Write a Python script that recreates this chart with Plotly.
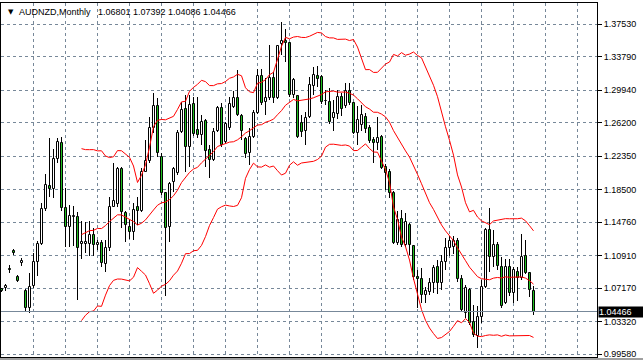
import numpy as np
import plotly.graph_objects as go

# AUDNZD monthly candles
opens = [1.0700,1.0717,1.0935,1.1137,1.0840,1.1001,1.0683,1.0490,1.0740,1.1016,
         1.1223,1.1622,1.1890,1.1852,1.2197,1.2381,1.1634,1.1415,1.1534,1.1530,
         1.1220,1.1223,1.1220,1.1323,1.1208,1.1231,1.0993,1.1174,1.1654,1.1680,
         1.2086,1.1580,1.1424,1.1364,1.1654,1.1608,1.2054,1.2178,1.2560,1.2813,
         1.2227,1.1813,1.1415,1.1939,1.2043,1.2514,1.2772,1.2342,1.2830,1.2534,
         1.2477,1.2641,1.2304,1.2189,1.2526,1.2784,1.2400,1.2554,1.2802,1.2899,
         1.2695,1.2430,1.2266,1.2457,1.2726,1.3158,1.2853,1.2899,1.3129,1.2905,
         1.3520,1.3561,1.3531,1.2937,1.2925,1.2611,1.2523,1.2687,1.3043,1.3158,
         1.3140,1.2862,1.2856,1.2669,1.2718,1.2917,1.2810,1.2986,1.2845,1.2500,
         1.2592,1.2689,1.2557,1.2419,1.2384,1.2454,1.2109,1.2051,1.1810,1.1235,
         1.1505,1.1212,1.1442,1.1200,1.0844,1.0821,1.0637,1.0671,1.0771,1.0953,
         1.0775,1.1016,1.1177,1.1192,1.1261,1.0817,1.0426,1.0694,1.0326,1.0165,
         1.0380,1.0732,1.1384,1.1077,1.1212,1.0955,1.0548,1.0962,1.0656,1.0904,
         1.0829,1.1085,1.0886,1.06801]
highs = [1.0717,1.0760,1.0982,1.1165,1.0866,1.1059,1.0702,1.0890,1.1116,1.1258,
         1.1691,1.2025,1.2439,1.2312,1.2439,1.2454,1.1867,1.1666,1.1660,1.1591,
         1.1488,1.1476,1.1482,1.1407,1.1269,1.1269,1.1269,1.1764,1.2151,1.2112,
         1.2112,1.1603,1.1499,1.1691,1.1767,1.2094,1.2419,1.2687,1.2956,1.2899,
         1.2270,1.1824,1.1939,1.2105,1.2534,1.2860,1.2937,1.2937,1.2917,1.2917,
         1.2707,1.2657,1.2362,1.2554,1.2810,1.2841,1.2629,1.2917,1.2986,1.3224,
         1.2715,1.2457,1.2554,1.2764,1.3236,1.3236,1.3129,1.3512,1.3198,1.3512,
         1.3779,1.3696,1.3549,1.3129,1.2937,1.2707,1.2744,1.3147,1.3262,1.3273,
         1.3167,1.2994,1.3017,1.2879,1.2994,1.2960,1.3080,1.3078,1.2860,1.2810,
         1.2822,1.2730,1.2592,1.2454,1.2684,1.2477,1.2143,1.2086,1.1833,1.1603,
         1.1614,1.1576,1.1468,1.1212,1.0924,1.0944,1.0729,1.0832,1.0976,1.1039,
         1.1096,1.1292,1.1315,1.1315,1.1292,1.0866,1.0752,1.0717,1.0522,1.0510,
         1.0809,1.1404,1.1634,1.1384,1.1249,1.1070,1.1047,1.1047,1.0955,1.0955,
         1.1338,1.1269,1.0904,1.07392]
lows = [1.0671,1.0686,1.0886,1.1096,1.0783,1.0970,1.0458,1.0426,1.0714,1.0855,
        1.1212,1.1606,1.1767,1.1755,1.2151,1.1597,1.1194,1.1192,1.1203,1.0579,
        1.1051,1.1125,1.1085,1.1085,1.1154,1.0958,1.0904,1.1142,1.1643,1.1652,
        1.1404,1.1249,1.1281,1.1269,1.1442,1.1591,1.2048,1.2151,1.2496,1.2227,
        1.1787,1.0625,1.1249,1.1824,1.2016,1.2503,1.2054,1.2112,1.2465,1.2439,
        1.2362,1.2112,1.1979,1.2178,1.2514,1.2342,1.2381,1.2534,1.2784,1.2695,
        1.2419,1.2215,1.2132,1.2445,1.2715,1.2822,1.2707,1.2879,1.2841,1.2891,
        1.3396,1.3319,1.2917,1.2899,1.2445,1.2457,1.2362,1.2669,1.2937,1.3032,
        1.2833,1.2822,1.2603,1.2519,1.2661,1.2695,1.2787,1.2822,1.2488,1.2367,
        1.2523,1.2500,1.2384,1.2154,1.2304,1.2086,1.1844,1.1752,1.1223,1.1212,
        1.1194,1.1192,1.1096,1.0809,1.0487,1.0541,1.0541,1.0637,1.0660,1.0648,
        1.0694,1.0924,1.1085,1.1108,1.0786,1.0441,1.0372,1.0292,1.0154,1.0027,
        1.0318,1.0714,1.0904,1.0955,1.0924,1.0484,1.0533,1.0625,1.0541,1.0571,
        1.0809,1.0878,1.0617,1.04086]
closes = [1.0688,1.0740,1.0924,1.1125,1.0797,1.1031,1.0490,1.0732,1.1016,1.1223,
          1.1622,1.1902,1.1852,1.2197,1.2393,1.1634,1.1415,1.1545,1.1545,1.1180,
          1.1249,1.1246,1.1327,1.1212,1.1231,1.1001,1.1174,1.1654,1.1712,1.2086,
          1.1591,1.1436,1.1364,1.1614,1.1606,1.2054,1.2178,1.2560,1.2813,1.2266,
          1.1815,1.1404,1.1913,1.2082,1.2503,1.2764,1.2342,1.2822,1.2488,1.2477,
          1.2623,1.2296,1.2189,1.2514,1.2784,1.2362,1.2603,1.2833,1.2899,1.2707,
          1.2523,1.2255,1.2457,1.2726,1.3158,1.2841,1.2899,1.3129,1.2899,1.3500,
          1.3558,1.3531,1.2937,1.3109,1.2457,1.2514,1.2675,1.3052,1.3167,1.3121,
          1.2853,1.2873,1.2629,1.2735,1.2914,1.2779,1.2977,1.2841,1.2496,1.2649,
          1.2707,1.2540,1.2408,1.2384,1.2442,1.2097,1.2040,1.1810,1.1235,1.1499,
          1.1217,1.1476,1.1212,1.0838,1.0821,1.0637,1.0683,1.0771,1.0944,1.0780,
          1.1016,1.1174,1.1258,1.1261,1.0821,1.0464,1.0714,1.0311,1.0177,1.0384,
          1.0732,1.1384,1.1070,1.1212,1.0970,1.0510,1.0962,1.0656,1.0924,1.0829,
          1.1077,1.0893,1.0694,1.04466]

price_ticks = [1.37530, 1.33790, 1.29940, 1.26200, 1.22350, 1.18500,
               1.14760, 1.10910, 1.07170, 1.03320, 0.99580]
last_price = 1.04466
title_text = "AUDNZD,Monthly\u00a0\u00a0\u00a01.06801 1.07392 1.04086 1.04466"

n = len(closes)
idx = np.arange(n)
o = np.array(opens); h = np.array(highs); l = np.array(lows); c = np.array(closes)

# Bollinger Bands (20, 2) on closes
period = 20
mid = np.full(n, np.nan); up = np.full(n, np.nan); dn = np.full(n, np.nan)
for i in range(period, n):
    w = c[i - period + 1:i + 1]
    m = w.mean(); s = w.std()
    mid[i] = m; up[i] = m + 2 * s; dn[i] = m - 2 * s

bull = c >= o
body_base = np.minimum(o, c)
body_h = np.abs(c - o)
body_colors = ["#ffffff" if b else "#20c020" for b in bull]

GRID = "#778899"
FONT = "Liberation Sans, Arial, sans-serif"

fig = go.Figure()
# wicks
fig.add_trace(go.Bar(x=idx, base=l, y=h - l, width=0.25,
                     marker=dict(color="#000000", line=dict(width=0)),
                     hoverinfo="skip", showlegend=False))
# bodies
fig.add_trace(go.Bar(x=idx, base=body_base, y=body_h, width=0.5,
                     marker=dict(color=body_colors, line=dict(color="#000000", width=1)),
                     hoverinfo="skip", showlegend=False))
for band in (up, mid, dn):
    fig.add_trace(go.Scatter(x=idx, y=band, mode="lines",
                             line=dict(color="#ff0000", width=1),
                             hoverinfo="skip", showlegend=False))

ymin, ymax = 0.99235, 1.39945
fig.update_layout(
    width=643, height=363,
    margin=dict(l=1, r=46, t=3, b=6, pad=0, autoexpand=False),
    paper_bgcolor="#ffffff", plot_bgcolor="#ffffff",
    template="none", barmode="overlay", bargap=0,
    font=dict(family=FONT, size=9, color="#000000"),
    showlegend=False,
    xaxis=dict(range=[-0.125, 148.875], tickvals=list(range(8, 149, 8)),
               showticklabels=False, ticks="", showgrid=True,
               gridcolor=GRID, gridwidth=1, griddash="3px,3px",
               zeroline=False, showline=True, mirror=True,
               linecolor="#000000", linewidth=1, automargin=False),
    yaxis=dict(range=[ymin, ymax], side="right", tickvals=price_ticks,
               ticktext=[f"{v:.5f}" for v in price_ticks],
               ticks="outside", ticklen=4, tickcolor="#000000", tickwidth=1,
               tickfont=dict(family=FONT, size=9, color="#000000"),
               showgrid=True, gridcolor=GRID, gridwidth=1, griddash="3px,3px",
               zeroline=False, showline=True, mirror=True,
               linecolor="#000000", linewidth=1, automargin=False),
)

# current price line
fig.add_shape(type="line", xref="paper", yref="y", x0=0, x1=1,
              y0=last_price, y1=last_price, line=dict(color=GRID, width=1))
# bottom frame of the date area
fig.add_shape(type="line", xref="paper", yref="paper", x0=-0.01, x1=1.08,
              y0=-2 / 354, y1=-2 / 354, line=dict(color="#404040", width=1))

# current price label
fig.add_annotation(x=1, xref="paper", y=last_price, yref="y", xanchor="left",
                   yanchor="middle", text=f"{last_price:.5f}", showarrow=False,
                   font=dict(family=FONT, size=9, color="#ffffff"),
                   bgcolor="#000000", borderpad=0, width=45, height=10,
                   align="left", xshift=1)

# title
fig.add_annotation(x=5 / 596, xref="paper", y=1 - 9 / 354, yref="paper",
                   xanchor="left", yanchor="middle", text="\u25bc", showarrow=False,
                   font=dict(family="DejaVu Sans", size=7, color="#000000"))
fig.add_annotation(x=16 / 596, xref="paper", y=1 - 9 / 354, yref="paper",
                   xanchor="left", yanchor="middle", text=title_text, showarrow=False,
                   font=dict(family=FONT, size=9, color="#000000"))

fig.write_html("out.html", config={"displayModeBar": False, "staticPlot": False},
               post_script="document.body.style.margin='0px';document.body.style.overflow='hidden';")
